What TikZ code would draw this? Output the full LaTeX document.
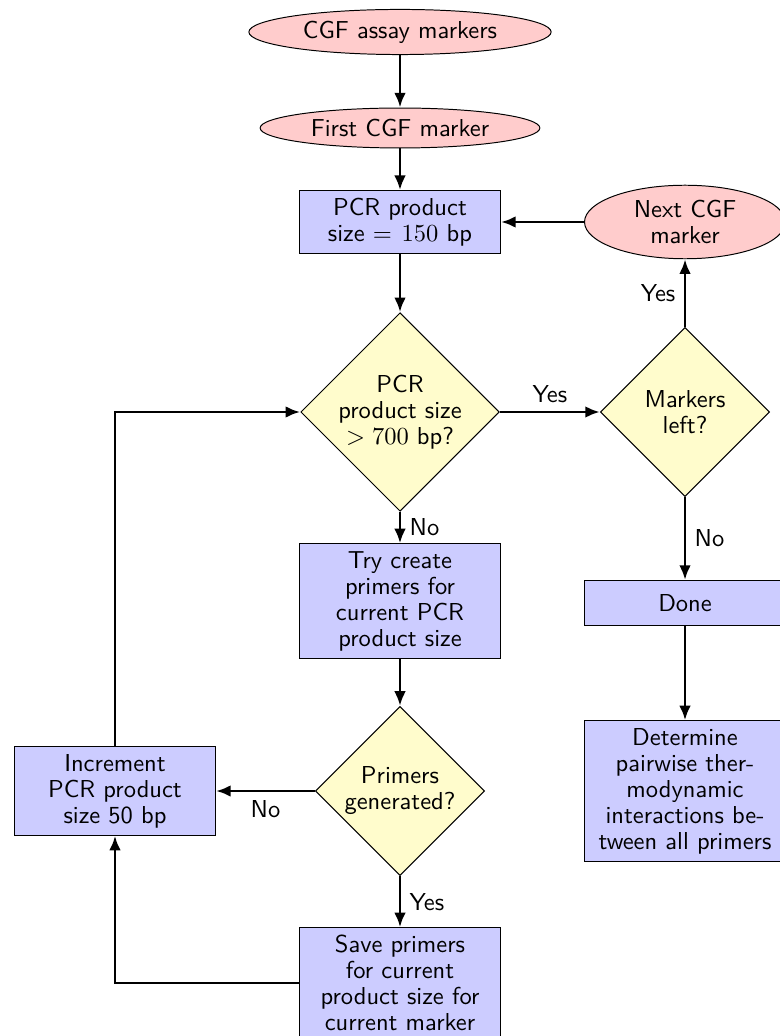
\documentclass[tikz,border=0pt]{standalone}
\usepackage{amsmath}
\usetikzlibrary{arrows.meta,shapes.geometric}

\begin{document}
\begin{tikzpicture}[x=0.408pt,y=-0.408pt,
font=\sffamily\fontsize{10}{10.6}\selectfont,
block/.style={rectangle,draw,fill=blue!20,text width=76pt,align=center,inner sep=3pt,minimum height=18.4pt},
decision/.style={diamond,draw,fill=yellow!20,align=center,inner sep=0pt,aspect=1,minimum size=69pt},
marker/.style={ellipse,draw,fill=red!20,align=center,inner xsep=4pt,inner ysep=0pt},
line/.style={draw,very thick,-{Latex[length=6pt,width=4.8pt]}}]
\useasboundingbox (0,0) rectangle (780,1036);
\node[marker,minimum height=18.4pt] (M0) at (400,32) {CGF assay markers};
\node[marker,minimum height=16.3pt] (M1) at (400,128) {First CGF marker};
\node[block] (P0) at (400,222) {PCR product\\ size $=150$ bp};
\node[decision,minimum size=81pt] (D1) at (400,412) {PCR\\ product size\\ $>700$ bp?};
\node[decision] (D2) at (685,412) {Markers\\ left?};
\node[marker,minimum width=82pt,minimum height=30pt] (M2) at (685,222) {Next CGF\\ marker};
\node[block] (P1) at (685,603) {Done};
\node[block] (P2) at (685,791) {Determine\\ pairwise ther-\\ modynamic\\ interactions be-\\ tween all primers};
\node[block] (P3) at (400,601) {Try create\\ primers for\\ current PCR\\ product size};
\node[decision] (D3) at (400,791) {Primers\\ generated?};
\node[block] (P4) at (115,791) {Increment\\ PCR product\\ size 50 bp};
\node[block] (P5) at (400,983) {Save primers\\ for current\\ product size for\\ current marker};
\path[line] (M0)--(M1);
\path[line] (M1)--(P0);
\path[line] (P0)--(D1);
\path[line] (D1)--node[midway,above] {Yes} (D2);
\path[line] (D1)--node[midway,right] {No} (P3);
\path[line] (D2)--node[midway,left] {Yes} (M2);
\path[line] (M2)--(P0);
\path[line] (D2)--node[midway,right] {No} (P1);
\path[line] (P1)--(P2);
\path[line] (P3)--(D3);
\path[line] (D3)--node[midway,below] {No} (P4);
\path[line] (D3)--node[midway,right] {Yes} (P5);
\path[line] (P4)|-(D1);
\path[line] (P5)-|(P4);
\end{tikzpicture}
\end{document}
